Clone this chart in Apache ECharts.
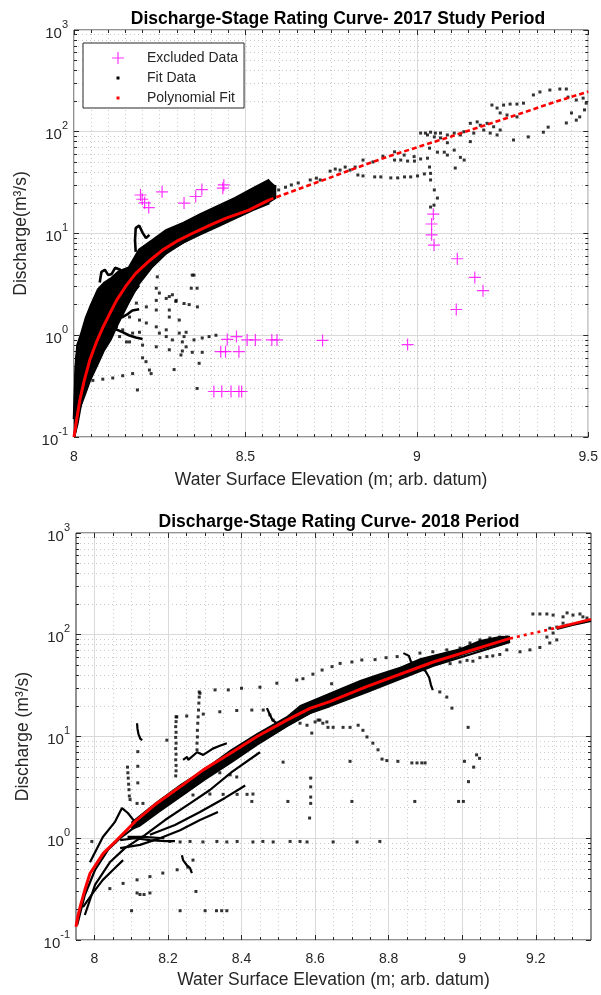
<!DOCTYPE html>
<html>
<head>
<meta charset="utf-8">
<script src="https://cdn.jsdelivr.net/npm/echarts@6/dist/echarts.min.js"></script>
<style>
  html, body { margin: 0; padding: 0; background: #fff; }
  #chart { width: 601px; height: 995px; }
</style>
</head>
<body>
<div id="chart"></div>
<script>
// ---------------- 2017 study period ----------------
// polynomial rating fit, [stage (m), discharge (m3/s)]
const fit2017Dense = [[8.000,0.10],[8.008,0.15],[8.017,0.23],[8.030,0.36],[8.046,0.57],[8.065,0.85],[8.085,1.21],[8.105,1.65],[8.124,2.2],[8.150,3.0],[8.180,4.06],[8.220,5.4],[8.259,6.9],[8.300,8.4],[8.355,10.4],[8.400,12.2],[8.442,14.1],[8.510,17.0],[8.568,21.3]];
const fit2017Sparse = [[8.568,21.3],[8.650,27.0],[8.741,34.8],[8.830,45],[8.915,56.9],[9.021,74],[9.100,90],[9.185,112],[9.300,150],[9.400,195],[9.500,248]];

// points left out of the fit
const excluded2017 = [[8.194,23.9],[8.199,21.7],[8.206,20.0],[8.218,18.0],[8.257,25.7],[8.321,19.9],[8.355,23.1],[8.373,27.0],[8.434,27.9],[8.437,30.0],
  [8.447,0.91],[8.474,0.97],[8.505,0.90],[8.529,0.90],[8.577,0.90],[8.592,0.90],[8.725,0.89],[8.973,0.81],
  [8.428,0.69],[8.442,0.69],[8.481,0.69],
  [8.408,0.28],[8.431,0.28],[8.458,0.28],[8.481,0.28],[8.489,0.28],
  [9.048,15.5],[9.043,12.4],[9.043,9.7],[9.050,7.7],[9.118,5.65],[9.169,3.7],[9.193,2.74],[9.115,1.79]];

// outline of the densest cloud of fit readings (upper edge, then lower edge back)
const cloud2017Upper = [[8.000,0.10],[8.000,0.35],[8.003,0.60],[8.010,0.80],[8.020,1.0],[8.035,1.48],[8.050,1.98],[8.070,2.8],[8.090,3.3],[8.110,3.65],[8.130,4.2],[8.160,4.6],[8.190,6.9],[8.230,8.6],[8.270,10.8],[8.320,12.7],[8.370,15.5],[8.420,18.6],[8.470,22.3],[8.520,27.4],[8.570,33.6],[8.590,29]];
const cloud2017Lower = [[8.590,22],[8.570,19.9],[8.520,17.0],[8.470,14.2],[8.420,11.85],[8.370,9.9],[8.320,8.0],[8.270,6.2],[8.230,4.6],[8.190,3.1],[8.160,2.0],[8.130,1.26],[8.110,0.9],[8.090,0.7],[8.070,0.5],[8.050,0.36],[8.035,0.26],[8.017,0.18],[8.008,0.12],[8.004,0.10]];

// continuous logger records used in the fit
const rec2017a = [[8.000,0.15],[8.005,0.45],[8.010,0.80],[8.020,1.0],[8.035,1.48],[8.050,1.98],[8.070,2.8],[8.090,3.3],[8.110,3.65],[8.130,4.2],[8.160,4.6],[8.190,6.9],[8.230,8.6],[8.270,10.8],[8.320,12.7],[8.370,15.5],[8.420,18.6],[8.470,22.3],[8.520,27.4],[8.570,33.6]];
const rec2017e = [[8.000,0.10],[8.010,0.137],[8.020,0.211],[8.035,0.355],[8.050,0.52],[8.070,0.75],[8.090,1.13],[8.110,1.51],[8.130,2.12],[8.160,2.9],[8.190,3.9],[8.230,5.1],[8.270,6.6],[8.320,8.25],[8.370,9.9],[8.420,11.85],[8.470,14.2],[8.520,17.0],[8.570,19.9]];
const rec2017f = [[8.035,0.29],[8.050,0.435],[8.070,0.60],[8.090,0.86],[8.110,1.18],[8.130,1.62],[8.160,2.32],[8.190,3.1]];
const rec2017loop = [[8.075,3.3],[8.080,4.2],[8.090,4.4],[8.100,3.9],[8.110,4.0],[8.120,4.6],[8.135,4.4],[8.145,3.6]];
const rec2017spike = [[8.180,6.6],[8.178,8.6],[8.180,11.3],[8.190,12.0],[8.200,10.2],[8.210,9.0],[8.220,9.7]];
const rec2017low1 = [[8.075,1.6],[8.090,1.4],[8.105,1.25],[8.120,1.15],[8.140,1.08],[8.160,1.0],[8.180,0.95],[8.200,0.92]];
const rec2017low2 = [[8.095,1.9],[8.110,1.75],[8.125,1.6],[8.140,1.5],[8.155,1.6],[8.170,1.75],[8.190,1.8]];
const rec2017top = [[8.510,24],[8.530,27],[8.550,26],[8.570,30],[8.590,29]];

// individual readings used in the fit
const pts2017 = [[8.350,3.9],[8.359,2.9],[8.243,3.75],
  [8.240,2.9],[8.249,2.6],[8.278,2.4],[8.297,2.15],[8.321,2.05],[8.336,2.0],[8.360,1.9],
  [8.162,1.51],[8.191,1.41],[8.211,1.32],[8.240,1.21],[8.269,1.13],[8.307,1.05],[8.321,0.97],[8.350,0.90],[8.374,0.94],[8.394,0.97],[8.414,1.0],
  [8.162,0.86],[8.200,0.80],[8.240,0.77],[8.278,0.72],[8.316,0.70],[8.345,0.68],[8.374,0.68],
  [8.055,0.36],[8.084,0.37],[8.113,0.38],[8.142,0.40],[8.171,0.42],[8.220,0.455],
  [8.185,0.29],[8.359,0.30],[8.292,0.46],
  [8.249,1.05],[8.269,0.97],[8.287,0.90],[8.316,0.86],[8.327,0.77],
  [8.182,2.07],[8.211,1.9],[8.240,2.2],[8.269,2.3],[8.298,2.2],[8.278,1.77],
  [8.124,1.21],[8.142,1.13],[8.133,0.97],[8.153,0.86],[8.171,1.05],[8.191,1.07],
  [8.342,2.9],[8.345,3.9],[8.225,0.42],[8.365,0.53],[8.312,0.64],[8.327,1.07],[8.287,2.5],[8.240,1.77],
  [8.200,0.60],[8.210,0.55],[8.278,1.51],[8.307,1.41],
  [8.597,26.8],[8.617,28.5],[8.634,30],[8.654,31.4],[8.689,33.6],[8.707,35],[8.718,33.6],
  [8.747,41],[8.762,43],[8.776,42],[8.791,45],[8.805,42],[8.820,45],
  [8.828,37.6],[8.843,36.8],[8.877,36],[8.895,36],[8.924,35.2],[8.944,35.2],[8.964,36],[8.982,36],[9.002,36.8],[9.022,38.5],
  [8.935,52.7],[8.953,52.7],[8.973,51.5],[8.993,51.5],[9.011,54],[9.031,55],
  [8.843,52.7],[8.872,50.5],[8.901,57.5],[8.935,63.5],[8.963,59],[8.992,57],
  [9.037,45],[9.040,39],[9.040,33.6],[9.051,26.8],[9.060,22.3],[9.040,18.2],[9.050,19],
  [9.025,97],[9.040,99],[9.054,97],[9.069,97],[9.089,93],
  [9.011,97],[9.031,93],[9.051,89],[9.069,87],[9.089,78],[9.109,97],[9.127,93],
  [9.037,69],[9.060,63],[9.080,63],[9.089,59],[9.109,66],[9.127,56],[9.138,52.7],[9.112,44],
  [9.137,100],[9.156,121],[9.176,125],[9.185,116],[9.205,121],[9.224,112],[9.243,104],[9.166,97],[9.195,104],[9.214,97],[9.234,93],[9.156,80],
  [9.219,183],[9.234,171],[9.253,183],[9.272,187],[9.292,187],[9.311,191],[9.243,153],[9.263,146],[9.292,140],
  [9.340,230],[9.359,246],[9.388,257],[9.417,263],[9.436,263],
  [9.441,219],[9.465,205],[9.485,214],[9.494,191],[9.451,153],[9.475,140],[9.465,130],[9.436,122],[9.489,164],
  [9.369,99],[9.383,111],[9.325,89],[9.282,83]];

// ---------------- 2018 period ----------------
const fit2018Dense = [[7.950,0.135],[7.955,0.17],[7.961,0.21],[7.975,0.32],[7.988,0.45],[8.024,0.71],[8.061,0.96],[8.115,1.51],[8.169,2.2],[8.233,3.2],[8.296,4.7],[8.369,6.8],[8.441,9.95],[8.523,14.5],[8.586,18.9],[8.640,22],[8.740,30.9],[8.921,54],[9.130,92]];
const fit2018Sparse = [[9.130,92],[9.256,117]];
const fit2018End = [[9.256,117],[9.350,142]];

const cloud2018Upper = [[8.100,1.45],[8.169,2.3],[8.233,3.4],[8.301,4.9],[8.369,7.4],[8.442,10.8],[8.523,15.9],[8.559,20.4],[8.613,24.6],[8.668,29.8],[8.722,35.9],[8.776,41.8],[8.831,48.5],[8.885,58.6],[8.939,65.7],[8.994,73.6],[9.048,88.8],[9.102,97],[9.130,98]];
const cloud2018Lower = [[9.130,85],[9.021,66],[8.920,49.3],[8.741,27.4],[8.640,19.9],[8.586,16.5],[8.526,12.5],[8.445,8.2],[8.374,5.5],[8.301,3.7],[8.241,2.6],[8.178,1.8],[8.124,1.3],[8.100,1.2]];

const rec2018a = [[7.953,0.14],[7.974,0.277],[8.002,0.49],[8.037,0.77],[8.070,1.0],[8.124,1.41],[8.178,1.98],[8.241,2.85],[8.301,4.0],[8.374,5.9],[8.445,8.6],[8.526,13.0],[8.586,17.0],[8.640,19.9],[8.741,27.4],[8.920,49.3],[9.130,85]];
const rec2018b = [[7.974,0.176],[8.002,0.35],[8.042,0.58],[8.083,0.80],[8.138,1.08],[8.192,1.51],[8.260,2.2],[8.314,2.98],[8.374,4.5],[8.450,7.0]];
const rec2018c = [[8.070,0.80],[8.124,0.86],[8.178,1.0],[8.233,1.2],[8.287,1.51],[8.336,1.81]];
const rec2018d = [[8.151,1.08],[8.219,1.35],[8.287,1.81],[8.355,2.49],[8.410,3.3]];
const rec2018g = [[9.257,114],[9.300,125],[9.350,137]];
const rec2018loop = [[8.241,5.9],[8.252,6.3],[8.255,5.9],[8.279,7.0],[8.296,6.6],[8.322,7.6],[8.341,8.1],[8.360,8.6]];
const rec2018rise = [[7.988,0.58],[8.023,1.03],[8.056,1.45],[8.075,1.98],[8.091,1.77],[8.110,1.45]];
const rec2018low = [[7.969,0.21],[7.996,0.29],[8.023,0.39],[8.051,0.49],[8.078,0.61]];
const rec2018flat1 = [[8.070,0.96],[8.110,1.0],[8.151,0.96],[8.192,0.935],[8.219,0.935]];
const rec2018flat2 = [[8.090,1.03],[8.132,1.03],[8.190,1.0]];
const rec2018stem = [[8.116,13.5],[8.117,12],[8.120,10.5],[8.125,9.5],[8.130,9.2]];
const rec2018drip = [[8.840,66],[8.855,62],[8.860,55],[8.870,50],[8.885,47],[8.900,44],[8.910,38],[8.915,32],[8.920,28.5]];
const rec2018hook = [[8.238,0.68],[8.241,0.61],[8.252,0.54],[8.260,0.51],[8.265,0.455]];
const rec2018bend = [[8.469,19],[8.475,17],[8.484,14.5],[8.496,13.5]];

const pts2018 = [[8.222,15.6],[8.222,14],[8.221,12.5],[8.222,11],[8.221,9.8],[8.222,8.6],[8.221,7.6],[8.222,6.7],[8.221,5.9],[8.222,5.2],[8.222,4.6],[8.221,4.1],
  [8.285,27.4],[8.285,24.4],[8.284,21.3],[8.283,18.2],[8.282,15.6],[8.281,13.5],[8.280,11.5],[8.280,9.9],[8.279,8.6],[8.279,7.4],
  [8.090,5.0],[8.091,4.4],[8.092,3.9],[8.093,3.4],[8.094,3.0],[8.095,2.6],[8.097,2.4],[8.116,2.2],[8.132,2.2],
  [8.118,7.1],[8.118,5.1],[8.118,3.5],
  [8.287,26.6],[8.328,28.7],[8.364,28.7],[8.400,29.8],[8.450,30.5],[8.496,33.4],[8.550,35.9],[8.567,37],[8.594,41],[8.619,45],[8.646,48.6],[8.668,52.3],[8.700,54],[8.727,56.5],[8.763,57],[8.793,59.5],[8.823,61],
  [8.224,15.6],[8.251,15.9],[8.296,16.6],[8.341,17.5],[8.387,18],[8.428,18.2],[8.459,18.2],[8.477,16.3],[8.486,14.5],
  [8.268,2.66],[8.314,2.72],[8.350,2.7],[8.388,2.7],[8.415,2.7],[8.431,2.72],
  [8.428,2.3],[8.526,2.3],[8.513,5.6],[8.341,4.4],[8.369,4.2],[8.387,4.0],[8.332,5.0],
  [8.588,3.9],[8.588,3.2],[8.588,2.54],[8.588,2.2],[8.585,1.58],
  [8.621,13.5],[8.635,12.3],[8.608,14.5],
  [8.042,0.32],[8.078,0.36],[8.116,0.39],[8.151,0.42],[8.186,0.455],[8.225,0.49],[8.254,0.52],[8.268,0.61],
  [8.116,0.29],[8.124,0.28],[8.135,0.28],[8.151,0.29],
  [8.101,0.194],[8.233,0.194],[8.301,0.194],[8.332,0.194],[8.346,0.194],[8.360,0.194],[8.276,0.30],
  [8.205,0.93],[8.233,0.92],[8.260,0.93],[8.295,0.92],[8.333,0.93],[8.360,0.92],[8.388,0.93],[8.431,0.92],[8.458,0.93],[8.486,0.92],[8.532,0.93],[8.559,0.93],[8.578,0.92],[8.649,0.92],[8.714,0.92],[8.776,0.93],
  [8.559,13.5],[8.578,12.9],[8.600,13.9],[8.613,14.5],[8.632,13.9],[8.649,12.3],[8.676,12.3],[8.695,12.3],[8.717,12.9],[8.730,11.5],[8.741,9.9],[8.757,8.6],[8.771,7.4],[8.782,6.0],[8.795,5.8],[8.825,5.7],[8.863,5.5],[8.877,5.5],[8.890,5.5],[8.899,5.5],
  [8.695,5.7],[8.700,2.3],[8.871,2.3],[8.990,2.3],[9.003,2.3],[9.006,5.7],[9.031,5.0],[9.017,3.6],[9.039,6.6],[9.047,6.1],[8.591,10.8],[8.645,33],[8.700,27],
  [8.939,27.4],[8.958,24.4],[8.972,19],[9.016,12.3],
  [8.885,66],[8.920,68],[8.958,71],[8.994,74],[9.021,83],[9.048,89],[9.075,93],[9.102,95],[9.121,95],
  [8.967,52],[8.994,54],[9.013,56],[9.029,55],[9.048,59.5],[9.067,61],[9.083,62],[9.102,64],[9.121,71],[9.157,68],[9.184,71],[9.211,75],[9.238,83],[9.257,89],
  [9.192,160],[9.211,160],[9.230,160],[9.247,156],[9.274,150],[9.285,164],[9.301,156],[9.320,160],[9.328,150],[9.339,146],[9.274,130],[9.285,124],[9.257,119],[9.238,116],[9.247,104],[9.230,95],
  [7.993,0.93],[8.020,0.65],[8.197,9.2]];

// axis ticks
const xTicks2017 = [8, 8.5, 9, 9.5];
const xTicks2018 = [8, 8.2, 8.4, 8.6, 8.8, 9, 9.2];
const yDecades = [0.1, 1, 10, 100, 1000];

// ---------------- drawing ----------------
const FONT = '"Liberation Sans", Arial, Helvetica, sans-serif';
const INK = '#262626';
const PLUS = 'path://M5.4,0h1.2v12h-1.2zM0,5.4h12v1.2h-12z';
const DOT = 'path://M0,0M4.5,4.5h3v3h-3zM12,12';

const records2017 = [rec2017a, rec2017e, rec2017f, rec2017loop, rec2017spike, rec2017low1, rec2017low2, rec2017top];
const records2018 = [rec2018a, rec2018b, rec2018c, rec2018d, rec2018g, rec2018loop, rec2018rise, rec2018low, rec2018flat1, rec2018flat2, rec2018stem, rec2018drip, rec2018hook, rec2018bend];

function cloudSeries(upper, lower, gi) {
  const outline = upper.concat(lower);
  return { type: 'custom', name: 'Fit Data', coordinateSystem: 'cartesian2d', xAxisIndex: gi * 2, yAxisIndex: gi * 2,
    data: outline, silent: true, animation: false, z: 3, itemStyle: { color: '#000' },
    renderItem: (params, api) => {
      if (params.dataIndex !== 0) return null;
      return { type: 'polygon', shape: { points: outline.map(p => api.coord(p)) }, style: { fill: '#000' } };
    } };
}
function recordSeries(data, gi, width) {
  return { type: 'line', name: 'Fit Data', xAxisIndex: gi * 2, yAxisIndex: gi * 2, data: data,
    symbol: 'none', showSymbol: false, silent: true, animation: false, z: 3,
    itemStyle: { color: '#000' }, lineStyle: { color: '#000', width: width } };
}
function pointSeries(data, gi) {
  return { type: 'scatter', name: 'Fit Data', xAxisIndex: gi * 2, yAxisIndex: gi * 2, data: data,
    symbol: 'rect', symbolSize: 3, silent: true, animation: false, z: 3, itemStyle: { color: '#000' } };
}
function fitSeries(data, gi, dash, width) {
  return { type: 'line', name: 'Polynomial Fit', xAxisIndex: gi * 2, yAxisIndex: gi * 2, data: data,
    symbol: 'none', showSymbol: false, silent: true, animation: false, z: 5,
    itemStyle: { color: '#ff0000' }, lineStyle: { color: '#ff0000', width: width, type: dash } };
}

function xAxes(gi, min, max, ticks, name, gap, margin) {
  const main = {
    type: 'value', gridIndex: gi, position: 'bottom', min: min, max: max,
    splitNumber: ticks.length - 1,
    axisLine: { show: false },
    axisTick: { show: true, inside: true, length: 5, lineStyle: { color: INK } },
    minorTick: { show: true, splitNumber: gi === 0 ? 10 : 4, length: 3, lineStyle: { color: INK } },
    splitLine: { show: true, lineStyle: { color: '#d9d9d9', width: 1 } },
    minorSplitLine: { show: true, lineStyle: { color: '#c9c9c9', width: 1, type: [1, 3] } },
    axisLabel: { color: INK, fontSize: 14, fontFamily: FONT, margin: margin,
      formatter: v => String(+(+v).toFixed(2)) },
    name: name, nameLocation: 'middle', nameGap: gap,
    nameTextStyle: { color: INK, fontSize: 17.5, fontFamily: FONT }
  };
  if (gi === 0) { main.interval = 0.5; } else { main.axisTick.customValues = ticks; main.axisLabel.customValues = ticks; }
  const top = {
    type: 'value', gridIndex: gi, position: 'top', min: min, max: max, splitNumber: ticks.length - 1,
    axisLine: { show: false }, axisLabel: { show: false }, splitLine: { show: false },
    axisTick: { show: true, inside: true, length: 5, lineStyle: { color: INK } },
    minorTick: { show: true, splitNumber: gi === 0 ? 10 : 4, length: 3, lineStyle: { color: INK } }
  };
  if (gi === 0) { top.interval = 0.5; } else { top.axisTick.customValues = ticks; }
  return [main, top];
}

function yAxes(gi, name) {
  const main = {
    type: 'log', logBase: 10, gridIndex: gi, position: 'left', min: yDecades[0], max: yDecades[yDecades.length - 1],
    axisLine: { show: false },
    axisTick: { show: true, inside: true, length: 5, lineStyle: { color: INK } },
    minorTick: { show: true, splitNumber: 9, length: 3, lineStyle: { color: INK } },
    splitLine: { show: true, lineStyle: { color: '#d9d9d9', width: 1 } },
    minorSplitLine: { show: true, lineStyle: { color: '#c9c9c9', width: 1, type: [1, 3] } },
    axisLabel: {
      margin: 6, fontFamily: FONT, color: INK,
      formatter: v => '{b|10}{s|' + Math.round(Math.log10(v)) + '}',
      rich: {
        b: { fontSize: 15, fontFamily: FONT, color: INK, lineHeight: 22, verticalAlign: 'bottom' },
        s: { fontSize: 11, fontFamily: FONT, color: INK, lineHeight: 12, verticalAlign: 'top' }
      }
    },
    name: name, nameLocation: 'middle', nameGap: 43,
    nameTextStyle: { color: INK, fontSize: 17.5, fontFamily: FONT }
  };
  const right = {
    type: 'log', logBase: 10, gridIndex: gi, position: 'right', min: yDecades[0], max: yDecades[yDecades.length - 1],
    axisLine: { show: false }, axisLabel: { show: false }, splitLine: { show: false },
    axisTick: { show: true, inside: true, length: 5, lineStyle: { color: INK } },
    minorTick: { show: true, splitNumber: 9, length: 3, lineStyle: { color: INK } }
  };
  return [main, right];
}

const series = [];
series.push({ type: 'scatter', name: 'Excluded Data', xAxisIndex: 0, yAxisIndex: 0, data: excluded2017,
  symbol: PLUS, symbolSize: 12, silent: true, animation: false, z: 2, itemStyle: { color: '#ff00ff' } });
series.push(cloudSeries(cloud2017Upper, cloud2017Lower, 0));
records2017.forEach(r => series.push(recordSeries(r, 0, 2.6)));
series.push(pointSeries(pts2017, 0));
series.push(fitSeries(fit2017Dense, 0, 'solid', 3));
series.push(fitSeries(fit2017Sparse, 0, [5, 3], 2.6));

series.push(cloudSeries(cloud2018Upper, cloud2018Lower, 1));
records2018.forEach(r => series.push(recordSeries(r, 1, 2.2)));
series.push(pointSeries(pts2018, 1));
series.push(fitSeries(fit2018Dense, 1, 'solid', 3));
series.push(fitSeries(fit2018Sparse, 1, [3, 4], 2.6));
series.push(fitSeries(fit2018End, 1, 'solid', 2.8));

const chart = echarts.init(document.getElementById('chart'), null, { renderer: 'canvas' });
chart.setOption({
  backgroundColor: '#fff',
  animation: false,
  textStyle: { fontFamily: FONT },
  title: [
    { text: 'Discharge-Stage Rating Curve- 2017 Study Period', left: 333, top: 5, textAlign: 'center',
      textStyle: { fontSize: 17.5, fontWeight: 'bold', color: '#000', fontFamily: FONT } },
    { text: 'Discharge-Stage Rating Curve- 2018 Period', left: 334, top: 508, textAlign: 'center',
      textStyle: { fontSize: 17.5, fontWeight: 'bold', color: '#000', fontFamily: FONT } }
  ],
  grid: [
    { left: 74, top: 30, width: 518, height: 407, show: true, borderColor: INK, borderWidth: 1, backgroundColor: '#fff' },
    { left: 76, top: 533, width: 515, height: 407, show: true, borderColor: INK, borderWidth: 1, backgroundColor: '#fff' }
  ],
  xAxis: [].concat(
    xAxes(0, 8, 9.5, xTicks2017, 'Water Surface Elevation (m; arb. datum)', 34, 13),
    xAxes(1, 7.95, 9.35, xTicks2018, 'Water Surface Elevation (m; arb. datum)', 31, 12)
  ),
  yAxis: [].concat(yAxes(0, 'Discharge(m³/s)'), yAxes(1, 'Discharge (m³/s)')),
  legend: {
    orient: 'vertical', left: 83, top: 43, itemWidth: 48, itemHeight: 12, itemGap: 6,
    padding: [8, 6, 3, 29], backgroundColor: '#fff', borderColor: INK, borderWidth: 1,
    textStyle: { fontSize: 14, color: INK, fontFamily: FONT },
    selectedMode: false,
    data: [
      { name: 'Excluded Data', icon: PLUS, itemStyle: { color: '#ff00ff' } },
      { name: 'Fit Data', icon: DOT, itemStyle: { color: '#000' } },
      { name: 'Polynomial Fit', icon: DOT, itemStyle: { color: '#ff0000' } }
    ]
  },
  series: series
});
</script>
</body>
</html>
